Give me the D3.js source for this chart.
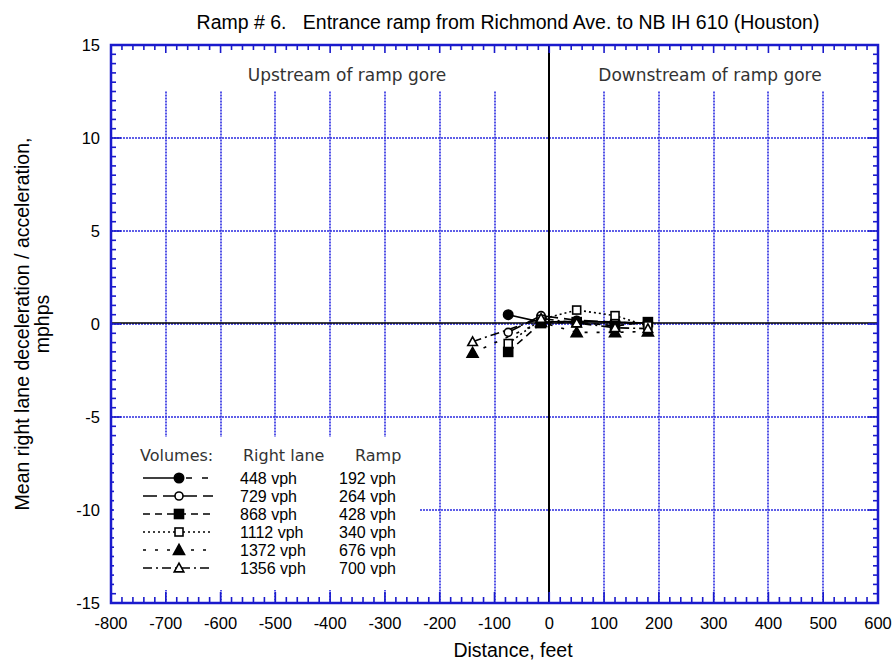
<!DOCTYPE html>
<html><head><meta charset="utf-8">
<script src="https://cdn.jsdelivr.net/npm/d3@7"></script>
<style>body{margin:0;background:#fff;} svg{display:block;}</style>
</head><body>
<script>
const xTicks = [-800,-700,-600,-500,-400,-300,-200,-100,0,100,200,300,400,500,600];
const yTicks = [-15,-10,-5,0,5,10,15];
const seriesNames = ["448 vph","729 vph","868 vph","1112 vph","1372 vph","1356 vph"];
const rampNames = ["192 vph","264 vph","428 vph","340 vph","676 vph","700 vph"];
const s1 = [[-75,0.5],[-15,0.1],[50,0.15],[120,0.1],[180,0.05]];
const s2 = [[-75,-0.45],[-15,0.45],[50,0.2],[120,0.1],[180,0.0]];
const s3 = [[-75,-1.5],[-15,0.05],[50,0.1],[120,-0.1],[180,0.1]];
const s4 = [[-75,-1.05],[-15,0.25],[50,0.75],[120,0.45],[180,-0.1]];
const s5 = [[-140,-1.55],[-15,0.1],[50,-0.45],[120,-0.45],[180,-0.4]];
const s6 = [[-140,-0.95],[-15,0.3],[50,0.05],[120,-0.2],[180,-0.25]];
const seriesData = [s1,s2,s3,s4,s5,s6];
const markers = ["circle","ocircle","square","osquare","triangle","otriangle"];
const dashes = [null,"14,6","7,5","2,3","3,9","9,4,2,4"];

const W=896,H=661;
const svg=d3.select("body").append("svg").attr("width",W).attr("height",H);
const x=d3.scaleLinear().domain([-800,600]).range([111,878]);
const y=d3.scaleLinear().domain([-15,15]).range([603,45]);
const blue="#1a1acc";
const gridBlue="#2a2ae0";
const sans="Liberation Sans, Arial, sans-serif";
const geo="'DejaVu Sans', sans-serif";

// title
svg.append("text").attr("x",508).attr("y",29).attr("text-anchor","middle")
  .attr("font-family",sans).attr("font-size",19.5).attr("xml:space","preserve")
  .text("Ramp # 6.   Entrance ramp from Richmond Ave. to NB IH 610 (Houston)");

// grid
const g=svg.append("g");
xTicks.filter(v=>v>-800&&v<600&&v!==0).forEach(v=>{
  const px=Math.round(x(v));
  g.append("line").attr("x1",px).attr("x2",px).attr("y1",y(12.5)).attr("y2",y(-15))
   .attr("stroke",gridBlue).attr("stroke-width",1.6).attr("stroke-dasharray","2,1");
});
yTicks.filter(v=>v>-15&&v<15).forEach(v=>{
  const py=Math.round(y(v));
  g.append("line").attr("x1",x(-800)).attr("x2",x(600)).attr("y1",py).attr("y2",py)
   .attr("stroke",gridBlue).attr("stroke-width",1.6).attr("stroke-dasharray","2,1");
});
// zero lines
g.append("line").attr("x1",Math.round(x(0))).attr("x2",Math.round(x(0))).attr("y1",y(15)).attr("y2",y(-15)).attr("stroke","#000").attr("stroke-width",2);
g.append("line").attr("x1",x(-800)).attr("x2",x(600)).attr("y1",Math.round(y(0))-1).attr("y2",Math.round(y(0))-1).attr("stroke","#000").attr("stroke-width",1.5);

// region labels
svg.append("text").attr("x",347).attr("y",81).attr("text-anchor","middle").attr("font-family",geo)
  .attr("font-size",17).attr("fill","#333").text("Upstream of ramp gore");
svg.append("text").attr("x",710).attr("y",81).attr("text-anchor","middle").attr("font-family",geo)
  .attr("font-size",17).attr("fill","#333").text("Downstream of ramp gore");

// axes with inward ticks
const minorX=d3.range(-800,601,20), minorY=d3.range(-15,15.01,0.5);
const axG=svg.append("g").attr("stroke",blue).attr("stroke-width",1.6);
minorX.forEach(v=>{
  const major = v%100===0;
  axG.append("line").attr("x1",x(v)).attr("x2",x(v)).attr("y1",y(-15)).attr("y2",y(-15)-(major?11:6));
  axG.append("line").attr("x1",x(v)).attr("x2",x(v)).attr("y1",y(15)).attr("y2",y(15)+(major?8:5));
});
minorY.forEach(v=>{
  const major = Math.abs(v%5)<1e-9;
  axG.append("line").attr("x1",x(-800)).attr("x2",x(-800)+(major?10:5)).attr("y1",y(v)).attr("y2",y(v));
  axG.append("line").attr("x1",x(600)).attr("x2",x(600)-(major?10:5)).attr("y1",y(v)).attr("y2",y(v));
});
svg.append("rect").attr("x",x(-800)).attr("y",y(15)).attr("width",x(600)-x(-800)).attr("height",y(-15)-y(15))
  .attr("fill","none").attr("stroke",blue).attr("stroke-width",2.5);

// tick labels
xTicks.forEach(v=>{
  svg.append("text").attr("x",x(v)).attr("y",629).attr("text-anchor","middle")
   .attr("font-family",sans).attr("font-size",16.5).text(v);
});
yTicks.forEach(v=>{
  svg.append("text").attr("x",100).attr("y",y(v)+6).attr("text-anchor","end")
   .attr("font-family",sans).attr("font-size",16.5).text(v);
});
svg.append("text").attr("x",513).attr("y",657).attr("text-anchor","middle")
  .attr("font-family",sans).attr("font-size",19.5).text("Distance, feet");
const yl=svg.append("text").attr("transform","translate(0,324) rotate(-90)").attr("text-anchor","middle")
  .attr("font-family",sans).attr("font-size",19.5);
yl.append("tspan").attr("x",0).attr("y",29).text("Mean right lane deceleration / acceleration,");
yl.append("tspan").attr("x",0).attr("y",49).text("mphps");

// marker drawer
function drawMarker(sel,type,cx,cy){
  const filled = !type.startsWith("o");
  const fill = filled?"#000":"#fff";
  if(type.endsWith("circle")){
    sel.append("circle").attr("cx",cx).attr("cy",cy).attr("r",filled?4.7:4)
      .attr("fill",fill).attr("stroke","#000").attr("stroke-width",1.6);
  } else if(type.endsWith("square")){
    const s=filled?9:8;
    sel.append("rect").attr("x",cx-s/2).attr("y",cy-s/2).attr("width",s).attr("height",s)
      .attr("fill",fill).attr("stroke","#000").attr("stroke-width",1.6);
  } else {
    const s=filled?5.5:4.8;
    sel.append("path").attr("d",`M${cx},${cy-s}L${cx+s},${cy+s*0.8}L${cx-s},${cy+s*0.8}Z`)
      .attr("fill",fill).attr("stroke","#000").attr("stroke-width",1.6);
  }
}

// data
const line=d3.line().x(d=>x(d[0])).y(d=>y(d[1]));
const dg=svg.append("g");
seriesData.forEach((s,i)=>{
  const p=dg.append("path").attr("d",line(s)).attr("fill","none").attr("stroke","#000").attr("stroke-width",1.6);
  if(dashes[i]) p.attr("stroke-dasharray",dashes[i]);
});
seriesData.forEach((s,i)=>{
  s.forEach(d=>drawMarker(dg,markers[i],x(d[0]),y(d[1])));
});

// legend
const lg=svg.append("g");
lg.append("rect").attr("x",114).attr("y",437).attr("width",306).attr("height",153).attr("fill","#fff");
lg.append("text").attr("x",140).attr("y",461).attr("font-family",geo).attr("font-size",16).attr("fill","#333").text("Volumes:");
lg.append("text").attr("x",243).attr("y",461).attr("font-family",geo).attr("font-size",16).attr("fill","#333").text("Right lane");
lg.append("text").attr("x",355).attr("y",461).attr("font-family",geo).attr("font-size",16).attr("fill","#333").text("Ramp");
seriesNames.forEach((nm,i)=>{
  const cy=[478,496,514,532,550,568][i];
  const l=lg.append("line").attr("x1",143).attr("x2",213).attr("y1",cy).attr("y2",cy)
    .attr("stroke","#000").attr("stroke-width",1.6);
  if(dashes[i]) l.attr("stroke-dasharray",dashes[i]);
  if(i===0){
    l.attr("x2",179);
    lg.append("line").attr("x1",186).attr("x2",213).attr("y1",cy).attr("y2",cy)
      .attr("stroke","#000").attr("stroke-width",1.6).attr("stroke-dasharray","6,10");
  }
  drawMarker(lg,markers[i],179,cy);
  lg.append("text").attr("x",240).attr("y",cy+5.5).attr("font-family",sans).attr("font-size",16).text(nm);
  lg.append("text").attr("x",339).attr("y",cy+5.5).attr("font-family",sans).attr("font-size",16).text(rampNames[i]);
});
</script>
</body></html>
